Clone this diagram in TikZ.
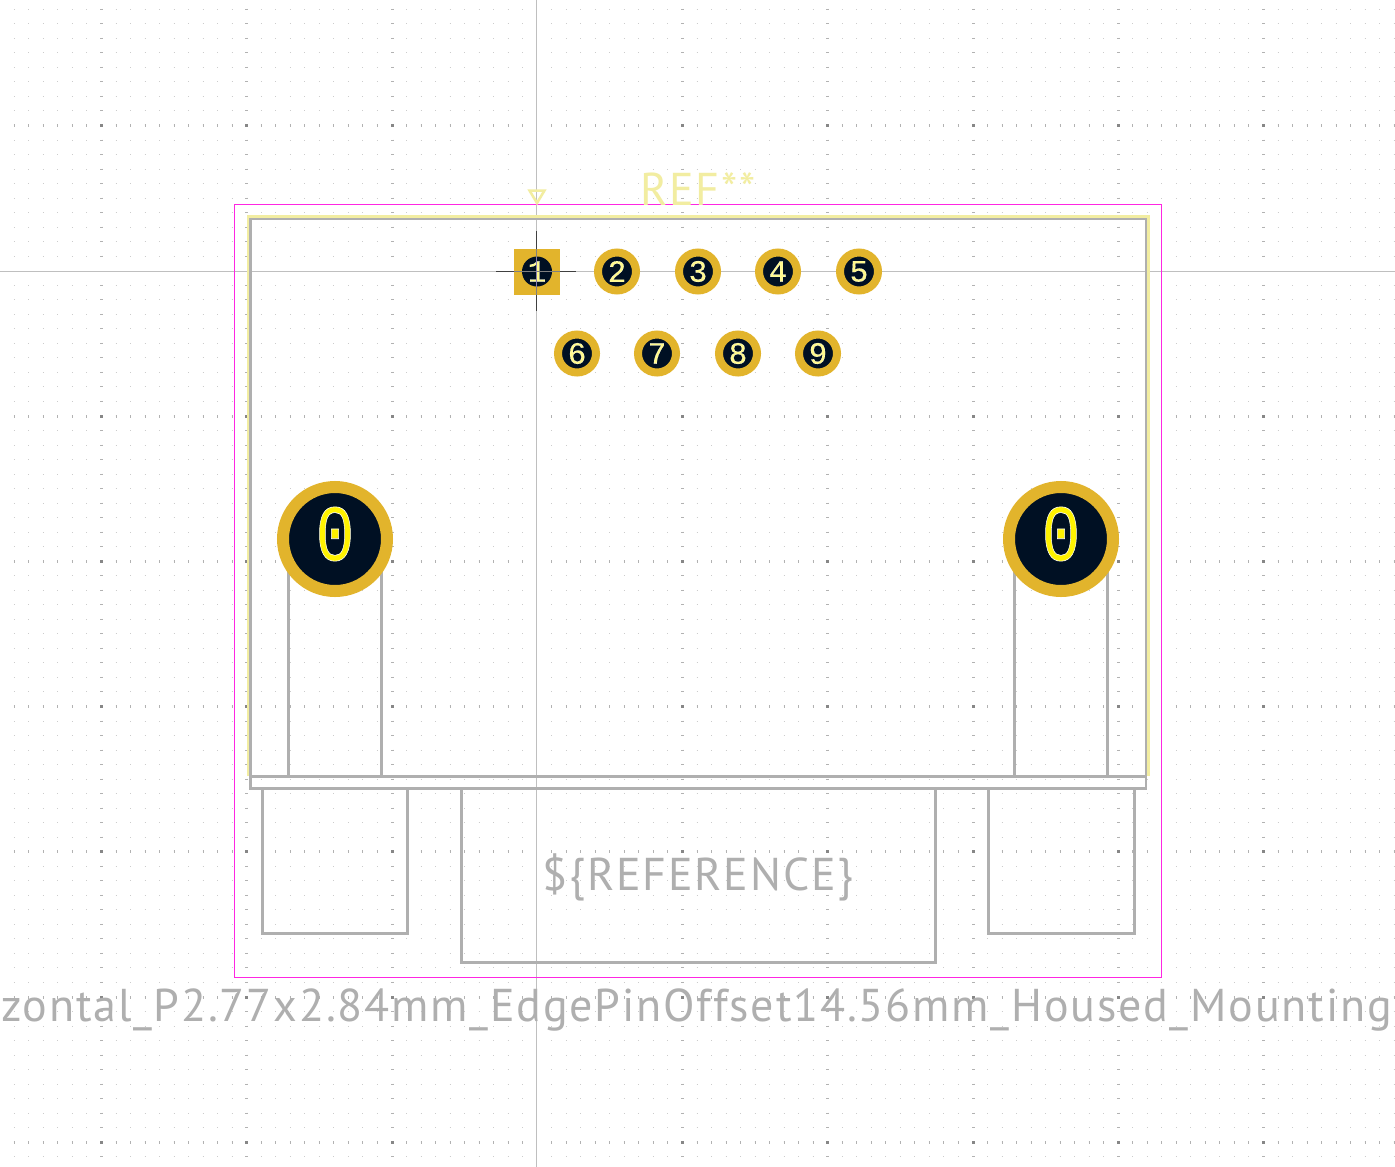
\documentclass[tikz,border=0pt]{standalone}
\usepackage{fontspec}
\newfontfamily\kifont[LetterSpace=3.9]{PT Sans}
\newfontfamily\padfont{Liberation Mono}
\usetikzlibrary{positioning}
\definecolor{courtyard}{HTML}{FF26E2}
\definecolor{silk}{HTML}{F2EDA1}
\definecolor{fab}{HTML}{AFAFAF}
\definecolor{padgold}{HTML}{E2B42C}
\definecolor{holeblue}{HTML}{001023}
\definecolor{axisover}{HTML}{8A80B0}
\newcommand{\padtext}[2][0.1]{\special{pdf:code q 2 Tr #1 w 1 1 1 RG}#2\special{pdf:code Q}}
\newcommand{\bigzero}{\raisebox{5pt}[\height][\depth]{\scalebox{0.84}[1.04]{\padtext[0.6]{0}}}}
\tikzset{
    griddot/.style={draw=black!20, line width=1pt, dash pattern=on 1pt off 13.525pt},
    gridmajor/.style={draw=black!30, line width=3pt, dash pattern=on 1pt off 13.525pt},
    fabline/.style={draw=fab, line width=2.8pt},
    silkline/.style={draw=silk, line width=3.4pt},
    kitext/.style={inner sep=0pt, outer sep=0pt, anchor=base, font=\fontsize{46}{46}\selectfont\kifont},
    roundpad/.style={circle, draw=padgold, fill=holeblue, line width=8pt, minimum size=38pt, inner sep=0pt, outer sep=0pt, text=yellow!45!white, font=\fontsize{31}{31}\selectfont\padfont},
    mountpad/.style={roundpad, line width=12pt, minimum size=104pt, text=yellow, font=\fontsize{77}{77}\selectfont\padfont},
}
\begin{document}
\begin{tikzpicture}[x=1pt, y=-1pt]
    \clip (0,0) rectangle (1395,1167);
    \fill[white] (0,0) rectangle (1395,1167);

    % grid
    \foreach \k in {0,...,79} {
        \draw[griddot] (13.85,9.3+14.525*\k) -- (1395,9.3+14.525*\k);
    }
    \foreach \k in {0,...,7} {
        \draw[gridmajor] (13.85,125.5+145.25*\k) -- (1395,125.5+145.25*\k);
    }
    \foreach \k in {0,...,8} {
        \draw[gridmajor] (101.5+145.25*\k,8.8) -- (101.5+145.25*\k,1167);
        \foreach \j in {0,...,7} {
            \fill[black!47] (100+145.25*\k,124+145.25*\j) rectangle +(3,3);
        }
    }

    % axes
    \draw[white, line width=5pt] (0,271) -- (1395,271);
    \draw[white, line width=5pt] (536.5,0) -- (536.5,1167);
    \draw[black!25, line width=1pt] (0,271) -- (1395,271);
    \draw[black!25, line width=1pt] (536.5,0) -- (536.5,1167);

    % courtyard
    \draw[courtyard, line width=1pt] (234.5,204.8) rectangle (1161.5,977.3);

    % silkscreen
    \draw[silkline] (248.6,776) -- (248.6,216.4) -- (1148.5,216.4) -- (1148.5,776);
    \draw[silk, line width=2.5pt, line join=miter] (529.5,190.5) -- (544.5,190.5) -- (537,203) -- cycle;

    % fab outline
    \draw[fabline] (250.7,219) rectangle (1146,776.5);
    \draw[fabline] (250.7,776.5) -- (250.7,788.5) -- (1146,788.5) -- (1146,776.5);
    \draw[fabline] (288.5,776.5) -- (288.5,560);
    \draw[fabline] (381.5,776.5) -- (381.5,560);
    \draw[fabline] (1014.5,776.5) -- (1014.5,560);
    \draw[fabline] (1107.5,776.5) -- (1107.5,560);
    \draw[fabline] (262.5,788.5) -- (262.5,933.5) -- (407.5,933.5) -- (407.5,788.5);
    \draw[fabline] (461.5,788.5) -- (461.5,962.5) -- (935.5,962.5) -- (935.5,788.5);
    \draw[fabline] (988.8,788.5) -- (988.8,933.5) -- (1134.5,933.5) -- (1134.5,788.5);

    % texts
    \node[kitext, text=silk] (ref) at (698,205) {REF**};
    \node[kitext, text=fab] (reference) at (698,890) {\$\{REFERENCE\}};
    \node[kitext, text=fab] (fpname) at (696.5,1021) {zontal\_P2.77x2.84mm\_EdgePinOffset14.56mm\_Housed\_Mounting};

    % crosshair
    \draw[black!75, line width=1pt] (496,271) -- (576,271);
    \draw[black!75, line width=1pt] (536.5,231) -- (536.5,311);

    % pads
    \node[rectangle, fill=padgold, minimum size=46pt, inner sep=0pt, outer sep=0pt] (sq1) at (537,271.5) {};
    \node[circle, fill=holeblue, minimum size=30pt, inner sep=0pt, outer sep=0pt, text=yellow!45!white, font=\fontsize{31}{31}\selectfont\padfont] (pad1) at (537,271.5) {\padtext{1}};
    \draw[black!50, line width=1pt] (sq1.west |- 0,271) -- (sq1.east |- 0,271);
    \draw[black!50, line width=1pt] (536.5,248.5) -- (536.5,294.5);
    \draw[axisover, line width=1pt] (536.5,256.5) -- (536.5,286.5);
    \foreach \n/\x/\y in {2/617/271.5, 3/698/271.5, 4/778/271.5, 5/859/271.5, 6/577/353.5, 7/657/353.5, 8/738/353.5, 9/818/353.5} {
        \node[roundpad] (pad\n) at (\x,\y) {\padtext{\n}};
    }
    \node[mountpad] (mountl) at (335,539) {\bigzero};
    \node[mountpad] (mountr) at (1061,539) {\bigzero};
\end{tikzpicture}
\end{document}
